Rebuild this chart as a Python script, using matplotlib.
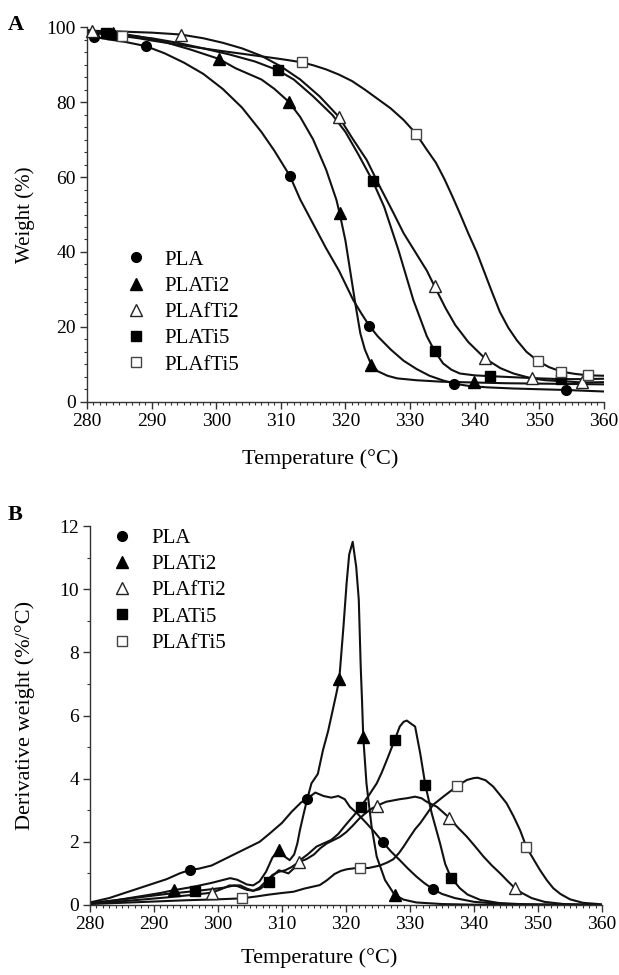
import matplotlib
matplotlib.use("Agg")
import matplotlib.pyplot as plt
from matplotlib.lines import Line2D
from matplotlib.ticker import MultipleLocator

plt.rcParams['font.family'] = ['Liberation Serif', 'DejaVu Serif']

series = ['PLA', 'PLATi2', 'PLAfTi2', 'PLATi5', 'PLAfTi5']

# ---------------- Panel A : TGA weight (%) ----------------
pla_T = [280, 281.1, 283, 286, 289.1, 292, 295, 298, 301, 304, 307, 309, 311.4, 313, 315, 317, 319,
         321.2, 322.5, 323.7, 325, 327, 329, 331, 333, 335, 336.8, 339, 342, 346, 350, 354.2, 357, 360]
pla_W = [97.8, 97.4, 96.8, 96.0, 94.9, 93.0, 90.5, 87.5, 83.5, 78.5, 72.0, 67.0, 60.3, 54.0, 47.5, 41.0, 35.0,
         27.2, 23.5, 20.3, 17.5, 14.0, 11.0, 8.8, 7.0, 5.8, 4.9, 4.3, 3.9, 3.6, 3.4, 3.2, 3.0, 2.8]
pla_mT = [281.1, 289.1, 311.4, 323.7, 336.8, 354.2]
pla_mW = [97.4, 94.9, 60.3, 20.3, 4.9, 3.2]

ti2_T = [280, 284.1, 288, 292, 296, 300.4, 303, 305, 307, 309, 311.2, 313, 315, 317, 318.6, 319.1, 320,
         321, 321.5, 322.3, 323, 324, 325, 326.5, 328, 331, 335, 339.9, 345, 350, 355, 360]
ti2_W = [98.6, 98.5, 97.5, 96.0, 94.0, 91.5, 89.0, 87.5, 86.0, 83.5, 80.1, 76.0, 70.0, 62.0, 53.9, 50.3, 43.0,
         32.0, 26.5, 18.3, 14.0, 9.9, 8.2, 7.0, 6.3, 5.8, 5.4, 5.2, 5.0, 4.9, 4.8, 4.7]
ti2_mT = [284.1, 300.4, 311.2, 319.1, 324.0, 339.9]
ti2_mW = [98.5, 91.5, 80.1, 50.3, 9.9, 5.2]

fti2_T = [280, 280.8, 285, 290, 294.5, 298, 301, 304, 307, 310, 313, 316, 319, 321, 323.3, 325.3, 327.4,
          329, 330.8, 332.6, 333.8, 335.5, 337, 339, 341.6, 344, 346, 348.8, 351, 354, 356.6, 360]
fti2_W = [99.2, 99.0, 98.8, 98.5, 98.0, 97.0, 95.8, 94.3, 92.3, 89.5, 86.0, 81.5, 76.0, 70.5, 64.5, 57.5, 50.5,
          45.0, 40.0, 35.0, 30.8, 25.0, 20.5, 16.0, 11.6, 9.0, 7.6, 6.3, 5.8, 5.5, 5.2, 5.3]
fti2_mT = [280.8, 294.5, 319.0, 333.8, 341.6, 348.8, 356.6]
fti2_mW = [99.0, 98.0, 76.0, 30.8, 11.6, 6.3, 5.2]

ti5_T = [280, 282.9, 286, 290, 294, 298, 302, 306, 309.5, 312, 315, 318, 320, 322, 324.2, 326, 328.2,
         330.5, 332.6, 333.8, 335.1, 336.4, 337.7, 340, 342.3, 346, 350, 353.4, 357, 360]
ti5_W = [98.6, 98.3, 97.8, 97.0, 95.8, 94.3, 92.7, 90.8, 88.5, 86.0, 81.5, 76.5, 72.0, 66.0, 59.0, 52.0, 40.5,
         27.2, 17.5, 13.6, 10.3, 8.6, 7.6, 7.1, 6.9, 6.6, 6.3, 6.1, 6.1, 6.2]
ti5_mT = [282.9, 309.5, 324.2, 333.8, 342.3, 353.4]
ti5_mW = [98.3, 88.5, 59.0, 13.6, 6.9, 6.1]

fti5_T = [280, 283, 285.4, 288, 290, 293, 296, 300, 303, 306, 309, 311, 313.2, 315, 317, 319, 321, 323,
          325, 327, 329, 330.9, 332.5, 334, 335.3, 336.5, 337.7, 339, 340.3, 341.5, 342.7, 343.9, 345.2,
          346.5, 348, 349.8, 351.5, 353.4, 355.5, 357.6, 360]
fti5_W = [98.6, 98.0, 97.6, 97.0, 96.4, 95.6, 94.8, 93.8, 93.1, 92.4, 91.7, 91.2, 90.6, 89.8, 88.7, 87.3,
          85.6, 83.3, 80.8, 78.3, 75.2, 71.6, 67.5, 63.8, 59.5, 55.0, 50.3, 45.0, 40.0, 34.6, 29.2, 24.0,
          19.8, 16.5, 13.4, 10.9, 9.3, 8.1, 7.5, 7.1, 7.0]
fti5_mT = [285.4, 313.2, 330.9, 349.8, 353.4, 357.6]
fti5_mW = [97.6, 90.6, 71.6, 10.9, 8.1, 7.1]

# ---------------- Panel B : DTG (%/°C) ----------------
pla_dT = [280, 283, 286, 289, 292, 294, 295.6, 297, 299, 301, 303, 305, 306.5, 308, 310, 311.5, 313, 313.9,
          315.2, 316.5, 317.7, 318.8, 319.8, 320.6, 322, 323.2, 324.5, 325.8, 327, 328.4, 329.7, 331, 332.2,
          333.6, 335, 337, 340, 344, 350, 360]
pla_dD = [0.08, 0.22, 0.42, 0.62, 0.82, 1.0, 1.11, 1.15, 1.25, 1.45, 1.65, 1.85, 2.0, 2.25, 2.6, 2.95, 3.25, 3.36,
          3.56, 3.45, 3.40, 3.45, 3.35, 3.11, 2.85, 2.59, 2.3, 1.98, 1.7, 1.42, 1.15, 0.9, 0.7,
          0.5, 0.35, 0.22, 0.1, 0.04, 0.01, 0.0]
pla_dmT = [295.6, 313.9, 325.8, 333.6]
pla_dmD = [1.11, 3.36, 1.98, 0.5]

ti2_dT = [280, 284, 288, 291, 293.1, 296, 299, 301.9, 303, 304.5, 305.5, 306.5, 307.5, 308.5, 309.5, 310.3,
          311.2, 311.9, 312.4, 312.8, 313.4, 313.9, 314.6, 315.6, 316.4, 317.2, 317.7, 318.5, 318.95, 319.6,
          320.1, 320.5, 321.05, 321.6, 322.0, 322.3, 322.5, 322.7, 323.2, 324.0, 324.8, 326.1, 327.6, 329,
          331, 335, 340, 360]
ti2_dD = [0.05, 0.15, 0.28, 0.38, 0.47, 0.57, 0.7, 0.85, 0.8, 0.65, 0.62, 0.75, 1.05, 1.5, 1.74, 1.55,
          1.42, 1.6, 1.95, 2.37, 2.9, 3.32, 3.85, 4.15, 4.9, 5.5, 5.96, 6.7, 7.15, 8.8,
          10.2, 11.1, 11.5, 10.7, 9.66, 7.55, 6.5, 5.31, 3.85, 2.48, 1.53, 0.79, 0.32, 0.17,
          0.08, 0.03, 0.01, 0.0]
ti2_dmT = [293.1, 309.5, 318.95, 322.7, 327.6]
ti2_dmD = [0.47, 1.74, 7.15, 5.31, 0.32]

fti2_dT = [280, 284, 288, 292, 296, 299, 300.5, 301.8, 303, 304.5, 305.5, 306.5, 307.5, 308.5, 309.5, 310.5,
           311.5, 312.7, 313.8, 315, 316, 317, 318, 319, 320, 321, 322, 323, 324, 324.9, 326.3, 328.4,
           329.5, 330.8, 331.8, 332.6, 334.2, 336.1, 337.5, 338.9, 340.2, 341.5, 342.8, 344.1, 345.3, 346.4,
           347.5, 349, 351, 354, 360]
fti2_dD = [0.04, 0.1, 0.17, 0.24, 0.32, 0.39, 0.5, 0.62, 0.6, 0.48, 0.45, 0.55, 0.75, 0.95, 1.05, 1.1,
           1.2, 1.37, 1.45, 1.6, 1.8, 1.95, 2.05, 2.15, 2.3, 2.5, 2.72, 2.9, 3.05, 3.15, 3.27, 3.35,
           3.38, 3.43, 3.38, 3.27, 3.11, 2.77, 2.45, 2.16, 1.85, 1.53, 1.25, 1.0, 0.75, 0.53,
           0.38, 0.22, 0.1, 0.03, 0.0]
fti2_dmT = [299.0, 312.7, 324.9, 336.1, 346.4]
fti2_dmD = [0.39, 1.37, 3.15, 2.77, 0.53]

ti5_dT = [280, 284, 288, 292, 296.4, 299, 301, 302.5, 303.5, 304.5, 305.5, 306.5, 307.2, 307.9, 308.7, 309.5,
          310.3, 311, 311.8, 312.8, 314, 315.4, 316.5, 317.7, 318.8, 319.8, 320.6, 321.5, 322.3, 323.5,
          324.8, 325.6, 326.4, 327.6, 328.4, 329.0, 329.5, 330.1, 330.8, 331.6, 332.4, 333.4, 334.7, 335.5,
          336.4, 337.8, 339, 341, 344, 348, 360]
ti5_dD = [0.06, 0.15, 0.25, 0.35, 0.44, 0.5, 0.55, 0.62, 0.62, 0.52, 0.45, 0.5, 0.6, 0.74, 0.95, 1.1,
          1.05, 1.0, 1.15, 1.42, 1.6, 1.85, 1.95, 2.06, 2.25, 2.5, 2.69, 2.9, 3.11, 3.45,
          3.85, 4.2, 4.6, 5.22, 5.65, 5.8, 5.84, 5.75, 5.65, 4.8, 3.8, 2.9, 1.95, 1.3,
          0.87, 0.53, 0.33, 0.16, 0.06, 0.02, 0.0]
ti5_dmT = [296.4, 307.9, 322.3, 327.6, 332.4, 336.4]
ti5_dmD = [0.44, 0.74, 3.11, 5.22, 3.8, 0.87]

fti5_dT = [280, 285, 290, 295, 300, 303.7, 306, 308, 310, 311.8, 313.5, 315.9, 317, 318.2, 319.2, 320.1,
           321.2, 322.2, 323.5, 325.3, 326.5, 327.4, 328.3, 329, 330, 330.8, 331.6, 332.5, 333.6, 334.4,
           335.2, 336.3, 337.4, 338.9, 340, 340.6, 341.8, 343, 344, 345.1, 346.2, 347.2, 348.2, 349.3,
           350.3, 351.4, 352.4, 353.5, 355, 357, 360]
fti5_dD = [0.03, 0.07, 0.11, 0.15, 0.18, 0.21, 0.27, 0.33, 0.38, 0.42, 0.52, 0.63, 0.78, 0.98, 1.08, 1.13,
           1.16, 1.18, 1.17, 1.25, 1.35, 1.45, 1.65, 1.85, 2.16, 2.4, 2.59, 2.85, 3.17, 3.3,
           3.43, 3.6, 3.77, 3.96, 4.02, 4.03, 3.95, 3.75, 3.5, 3.22, 2.8, 2.37, 1.83, 1.45,
           1.11, 0.78, 0.53, 0.35, 0.18, 0.07, 0.02]
fti5_dmT = [303.7, 322.2, 337.4, 348.2]
fti5_dmD = [0.21, 1.18, 3.77, 1.83]

x_ticks = [280, 290, 300, 310, 320, 330, 340, 350, 360]
yA_ticks = [0, 20, 40, 60, 80, 100]
yB_ticks = [0, 2, 4, 6, 8, 10, 12]

styles = {
    'PLA': dict(marker='o', mfc='black', mec='black', ms=7),
    'PLATi2': dict(marker='^', mfc='black', mec='black', ms=8),
    'PLAfTi2': dict(marker='^', mfc='white', mec='#222222', ms=8, mew=1.0),
    'PLATi5': dict(marker='s', mfc='black', mec='black', ms=6.5),
    'PLAfTi5': dict(marker='s', mfc='white', mec='#444444', ms=6.5, mew=1.0),
}

FS = 14
LFS = 15
XFS = 16
fig = plt.figure(figsize=(6.19, 9.75), dpi=100)
axA = fig.add_axes([0.1405, 0.5877, 0.8352, 0.3846])
axB = fig.add_axes([0.1454, 0.0718, 0.8271, 0.3887])

curvesA = [(pla_T, pla_W, pla_mT, pla_mW), (ti2_T, ti2_W, ti2_mT, ti2_mW),
           (fti2_T, fti2_W, fti2_mT, fti2_mW), (ti5_T, ti5_W, ti5_mT, ti5_mW),
           (fti5_T, fti5_W, fti5_mT, fti5_mW)]
curvesB = [(pla_dT, pla_dD, pla_dmT, pla_dmD), (ti2_dT, ti2_dD, ti2_dmT, ti2_dmD),
           (fti2_dT, fti2_dD, fti2_dmT, fti2_dmD), (ti5_dT, ti5_dD, ti5_dmT, ti5_dmD),
           (fti5_dT, fti5_dD, fti5_dmT, fti5_dmD)]

for ax, curves in ((axA, curvesA), (axB, curvesB)):
    for name, (cx, cy, mx, my) in zip(series, curves):
        ax.plot(cx, cy, color='#111111', lw=1.5, zorder=2, solid_joinstyle='round')
        ax.plot(mx, my, linestyle='None', zorder=3, clip_on=False, **styles[name])

def style_axis(ax, yticks, yminor, xlab_x, xlab_y):
    ax.set_xlim(280, 360)
    ax.set_xticks(x_ticks)
    ax.set_yticks(yticks)
    ax.xaxis.set_minor_locator(MultipleLocator(1))
    ax.yaxis.set_minor_locator(MultipleLocator(yminor))
    for s in ('top', 'right'):
        ax.spines[s].set_visible(False)
    for s in ('left', 'bottom'):
        ax.spines[s].set_linewidth(1.0)
        ax.spines[s].set_color('#333333')
    ax.tick_params(which='major', direction='out', length=5, width=1.0, labelsize=FS, pad=3, color='#333333')
    ax.tick_params(which='minor', direction='out', length=2.5, width=0.8, color='#333333')
    ax.set_xlabel('Temperature (°C)', fontsize=XFS)
    ax.xaxis.set_label_coords(xlab_x, xlab_y)

style_axis(axA, yA_ticks, 20 / 6, 0.451, -0.125)
axA.set_ylim(0, 100)
axA.set_ylabel('Weight (%)', fontsize=LFS)
axA.yaxis.set_label_coords(-0.1, 0.5)

style_axis(axB, yB_ticks, 1, 0.447, -0.115)
axB.set_ylim(0, 12)
axB.set_ylabel('Derivative weight (%/°C)', fontsize=XFS)
axB.yaxis.set_label_coords(-0.107, 0.5)

def make_legend(ax, anchor):
    handles = [Line2D([], [], linestyle='None', **styles[n]) for n in series]
    ax.legend(handles, series, loc='upper left', bbox_to_anchor=anchor, frameon=False,
              fontsize=LFS, handlelength=1.0, handletextpad=0.9, labelspacing=0.32,
              borderpad=0, borderaxespad=0)

make_legend(axA, (0.074, 0.405))
make_legend(axB, (0.042, 0.994))

fig.text(0.013, 0.985, 'A', fontsize=16, fontweight='bold', va='top', ha='left')
fig.text(0.013, 0.482, 'B', fontsize=16, fontweight='bold', va='top', ha='left')

fig.savefig('out.png', dpi=100)
